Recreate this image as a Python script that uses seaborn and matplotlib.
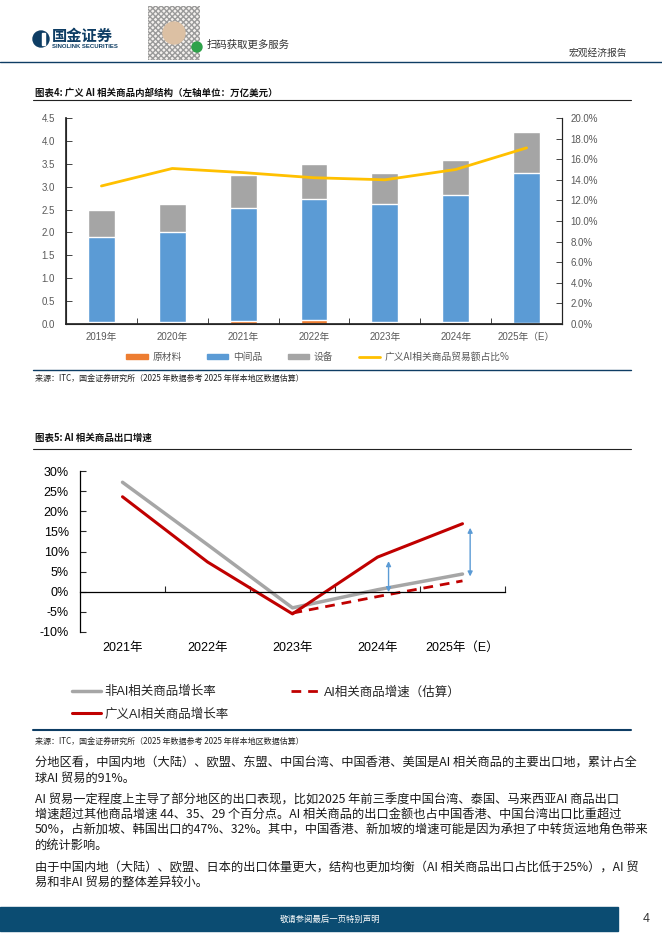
import numpy as np
import pandas as pd
import matplotlib
matplotlib.use('Agg')
import matplotlib.pyplot as plt
import seaborn as sns
from matplotlib.patches import Patch, Rectangle, Circle
from matplotlib.lines import Line2D
from matplotlib.ticker import FuncFormatter, MultipleLocator, FixedLocator

sns.set_theme(style='white')
plt.rcParams['font.family'] = ['Noto Sans CJK SC', 'DejaVu Sans']
NUM_FONT = ['Liberation Sans', 'Noto Sans CJK SC']

# chart 4: AI goods structure (trillion USD) + share (%)
years1 = ['2019年', '2020年', '2021年', '2022年', '2023年', '2024年', '2025年（E）']
raw_material = [0.04, 0.05, 0.07, 0.08, 0.05, 0.05, 0.03]
intermediate = [1.87, 1.97, 2.47, 2.66, 2.57, 2.76, 3.27]
equipment = [0.58, 0.61, 0.71, 0.75, 0.68, 0.78, 0.89]
ai_share = [13.4, 15.1, 14.7, 14.2, 14.0, 15.0, 17.1]

# chart 5: export growth (%)
years2 = ['2021年', '2022年', '2023年', '2024年', '2025年（E）']
non_ai_growth = [27.2, 11.7, -4.0, 0.5, 4.4]
broad_ai_growth = [23.6, 7.4, -5.5, 8.6, 16.9]
ai_growth_est = [np.nan, np.nan, -5.3, -1.2, 2.7]

ORANGE, BLUE, GREY, YELLOW = '#ED7D31', '#5B9BD5', '#A5A5A5', '#FFC000'
RED, LGREY = '#C00000', '#A6A6A6'
NAVY = '#0e3d64'
TXT = '#595959'

W, H = 662, 936
fig = plt.figure(figsize=(W / 100, H / 100), dpi=100)


def box(x0, y0, x1, y1):
    # pixel box -> figure fraction rect
    return [x0 / W, 1 - y1 / H, (x1 - x0) / W, (y1 - y0) / H]


# page layer in pixel coords
page = fig.add_axes([0, 0, 1, 1])
page.set_xlim(0, W)
page.set_ylim(H, 0)
page.axis('off')

# header
page.add_patch(Circle((41, 39), 8, color=NAVY))
page.add_patch(Rectangle((42, 33), 3, 12, color='white'))
page.text(52, 36, '国金证券', fontsize=11, fontweight='bold', color=NAVY, va='center')
page.text(52, 47, 'SINOLINK SECURITIES', fontsize=4.3, fontweight='bold', color=NAVY,
          va='center', family=NUM_FONT)
page.add_patch(Rectangle((148, 6), 52, 54, facecolor='#f4f1ee', edgecolor='#9a9a9a',
                         hatch='xxxxxx', lw=0))
page.add_patch(Circle((174, 33), 11, color='#dcc0a3'))
page.add_patch(Circle((197, 47), 5, color='#2ea24a'))
page.text(207, 45, '扫码获取更多服务', fontsize=7.5, color='#333333', va='center')
page.text(627, 53, '宏观经济报告', fontsize=7, color='#333333', va='center', ha='right')
page.plot([0, W], [62, 62], color=NAVY, lw=1)

# chart 4 title
page.text(35, 93, '图表4: 广义 AI 相关商品内部结构（左轴单位：万亿美元）', fontsize=6.8,
          fontweight='bold', va='center', color='#111111')
page.plot([33, 631], [100, 100], color='#222222', lw=0.8)

# chart 4
df1 = pd.DataFrame({'year': years1, 'raw': raw_material, 'mid': intermediate,
                    'equip': equipment, 'share': ai_share})
df1['mid_top'] = df1['raw'] + df1['mid']
df1['total'] = df1['mid_top'] + df1['equip']

ax1 = fig.add_axes(box(66, 118, 562, 324))
sns.barplot(data=df1, x='year', y='total', color=GREY, width=0.38, saturation=1, ax=ax1)
sns.barplot(data=df1, x='year', y='mid_top', color=BLUE, width=0.38, saturation=1, ax=ax1)
sns.barplot(data=df1, x='year', y='raw', color=ORANGE, width=0.38, saturation=1, ax=ax1)
ax1.set_xlabel('')
ax1.set_ylabel('')
ax1.set_ylim(0, 4.5)
ax1.set_xlim(-0.5, len(years1) - 0.5)
ax1.yaxis.set_major_locator(MultipleLocator(0.5))
ax1.yaxis.set_major_formatter(FuncFormatter(lambda v, p: f'{v:.1f}'))
ax1.xaxis.set_minor_locator(FixedLocator(np.arange(0.5, len(years1) - 0.5)))
ax1.tick_params(axis='x', which='major', length=0, pad=6, labelsize=7, labelcolor=TXT)
ax1.tick_params(axis='x', which='minor', bottom=True, direction='in', length=4, width=0.6)
ax1.tick_params(axis='y', left=True, direction='in', length=4, width=0.6, pad=8,
                labelsize=7, labelcolor=TXT)
for lab in ax1.get_xticklabels() + ax1.get_yticklabels():
    lab.set_family(NUM_FONT)
ax1.spines['top'].set_visible(False)
for s in ['left', 'right', 'bottom']:
    ax1.spines[s].set_color('#222222')
    ax1.spines[s].set_linewidth(0.8)

ax1r = ax1.twinx()
sns.lineplot(x=np.arange(len(years1)), y=df1['share'], color=YELLOW, lw=2, ax=ax1r)
ax1r.set_ylim(0, 20)
ax1r.set_ylabel('')
ax1r.yaxis.set_major_locator(MultipleLocator(2))
ax1r.yaxis.set_major_formatter(FuncFormatter(lambda v, p: f'{v:.1f}%'))
ax1r.tick_params(axis='y', right=True, direction='in', length=4, width=0.6, pad=6,
                 labelsize=7, labelcolor=TXT)
for lab in ax1r.get_yticklabels():
    lab.set_family(NUM_FONT)
ax1r.spines['top'].set_visible(False)
ax1r.spines['right'].set_color('#222222')
ax1r.spines['right'].set_linewidth(0.8)

h1 = [Patch(color=ORANGE, label='原材料'), Patch(color=BLUE, label='中间品'),
      Patch(color=GREY, label='设备'), Line2D([], [], color=YELLOW, lw=2, label='广义AI相关商品贸易额占比%')]
fig.legend(handles=h1, ncol=4, loc='center', bbox_to_anchor=(318 / W, 1 - 357 / H),
           frameon=False, fontsize=7, labelcolor=TXT, handlelength=2.2, handleheight=0.5,
           columnspacing=2.6, handletextpad=0.5)

page.plot([33, 631], [370, 370], color=NAVY, lw=1)
page.text(35, 378, '来源：ITC，国金证券研究所（2025 年数据参考 2025 年样本地区数据估算）',
          fontsize=5.8, va='center', color='#222222')

# chart 5 title
page.text(35, 438, '图表5: AI 相关商品出口增速', fontsize=6.8, fontweight='bold',
          va='center', color='#111111')
page.plot([33, 631], [449, 449], color='#222222', lw=0.8)

# chart 5
ax2 = fig.add_axes(box(80, 471, 505, 632))
x2 = np.arange(len(years2))
sns.lineplot(x=x2, y=non_ai_growth, color=LGREY, lw=2.5, ax=ax2)
sns.lineplot(x=x2, y=broad_ai_growth, color=RED, lw=2.2, ax=ax2)
ax2.plot(x2, ai_growth_est, color=RED, lw=2, dashes=(3.5, 2.5))

# gap arrows between broad AI and non-AI growth
for i, dx in [(3, 0.13), (4, 0.09)]:
    ax2.annotate('', xy=(x2[i] + dx, broad_ai_growth[i] - 1.0),
                 xytext=(x2[i] + dx, non_ai_growth[i] - 0.6),
                 arrowprops=dict(arrowstyle='<|-|>', color=BLUE, lw=1, mutation_scale=7,
                                 shrinkA=0, shrinkB=0))

ax2.set_xlim(-0.5, len(years2) - 0.5)
ax2.set_ylim(-10, 30)
ax2.set_xticks(x2)
ax2.set_xticklabels(years2)
ax2.xaxis.set_minor_locator(FixedLocator(np.arange(0.5, len(years2))))
ax2.yaxis.set_major_locator(MultipleLocator(5))
ax2.yaxis.set_major_formatter(FuncFormatter(lambda v, p: f'{v:.0f}%'))
ax2.spines['bottom'].set_position(('data', 0))
ax2.spines['top'].set_visible(False)
ax2.spines['right'].set_visible(False)
for s in ['left', 'bottom']:
    ax2.spines[s].set_color('black')
    ax2.spines[s].set_linewidth(0.9)
ax2.tick_params(axis='x', which='major', length=0, pad=36, labelsize=9, labelcolor='black')
ax2.tick_params(axis='x', which='minor', bottom=True, direction='in', length=4, width=0.8)
ax2.tick_params(axis='y', left=True, direction='in', length=4, width=0.8, pad=8,
                labelsize=9, labelcolor='black')
for lab in ax2.get_xticklabels() + ax2.get_yticklabels():
    lab.set_family(NUM_FONT)

h2 = [Line2D([], [], color=LGREY, lw=2.5, label='非AI相关商品增长率'),
      Line2D([], [], color=RED, lw=2.2, label='广义AI相关商品增长率'),
      Line2D([], [], color=RED, lw=2, dashes=(3.5, 2.5), label='AI相关商品增速（估算）')]
leg2 = fig.legend(handles=h2, ncol=2, loc='upper left', bbox_to_anchor=(72 / W, 1 - 686 / H),
                  frameon=False, fontsize=9, handlelength=2.3, handletextpad=0.3,
                  columnspacing=5.0, labelspacing=0.8, borderaxespad=0, borderpad=0)
for t in leg2.get_texts():
    t.set_family(NUM_FONT)

page.plot([33, 631], [730, 730], color=NAVY, lw=1.5)
page.text(35, 741, '来源：ITC，国金证券研究所（2025 年数据参考 2025 年样本地区数据估算）',
          fontsize=5.8, va='center', color='#222222')

# body text
body = [
    (763, '分地区看，中国内地（大陆）、欧盟、东盟、中国台湾、中国香港、美国是AI 相关商品的主要出口地，累计占全'),
    (778, '球AI 贸易的91%。'),
    (800, 'AI 贸易一定程度上主导了部分地区的出口表现，比如2025 年前三季度中国台湾、泰国、马来西亚AI 商品出口'),
    (815, '增速超过其他商品增速 44、35、29 个百分点。AI 相关商品的出口金额也占中国香港、中国台湾出口比重超过'),
    (830, '50%，占新加坡、韩国出口的47%、32%。其中，中国香港、新加坡的增速可能是因为承担了中转货运地角色带来'),
    (845, '的统计影响。'),
    (867, '由于中国内地（大陆）、欧盟、日本的出口体量更大，结构也更加均衡（AI 相关商品出口占比低于25%），AI 贸'),
    (882, '易和非AI 贸易的整体差异较小。'),
]
for y, line in body:
    page.text(35, y, line, fontsize=8.8, va='center', color='#1a1a1a')

# footer
page.add_patch(Rectangle((0, 907), 618, 24, color='#0b4c72'))
page.text(330, 919, '敬请参阅最后一页特别声明', fontsize=6, color='white', ha='center', va='center')
page.text(646, 919, '4', fontsize=9, color='#333333', ha='center', va='center', family=NUM_FONT)

fig.savefig('out.png', dpi=100)
